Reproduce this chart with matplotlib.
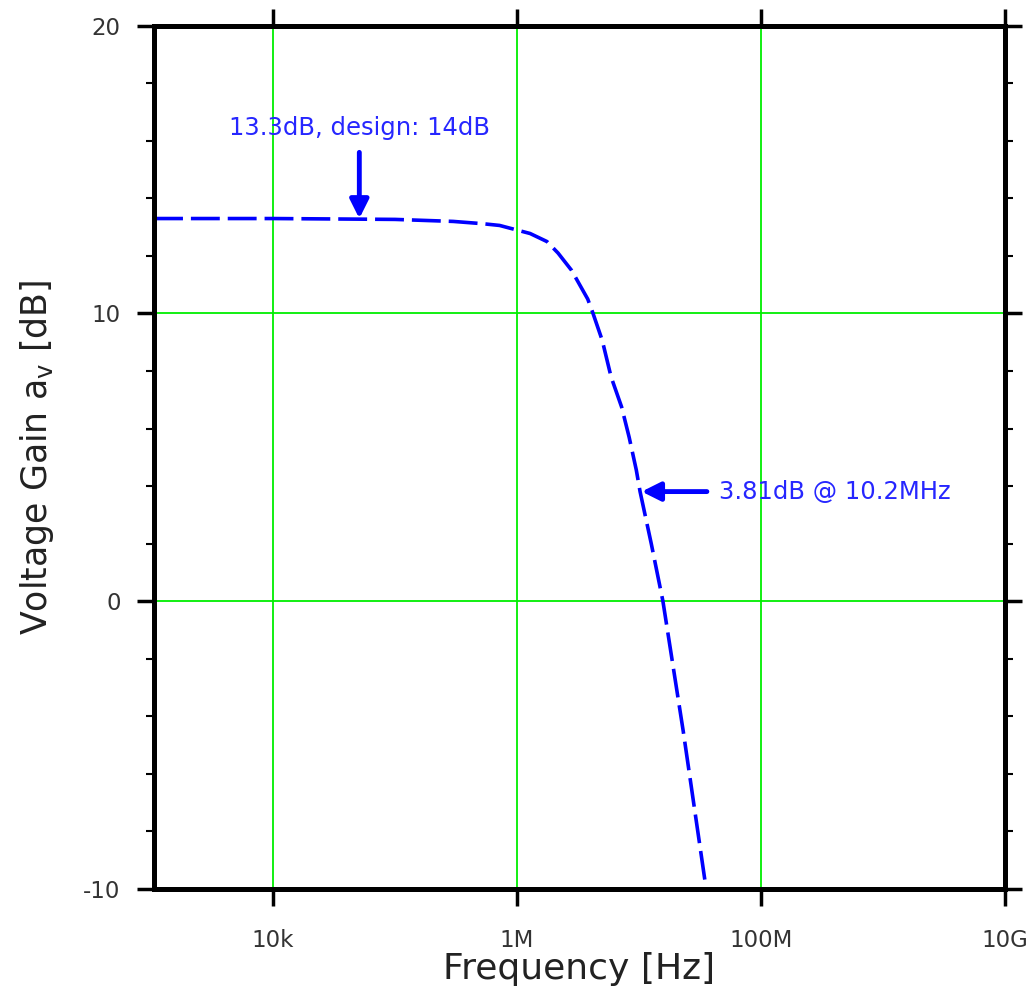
import numpy as np
import matplotlib
matplotlib.use('Agg')
import matplotlib.pyplot as plt
from matplotlib.ticker import FixedLocator, MultipleLocator, NullLocator

plt.rcParams['axes.unicode_minus'] = False

# amplifier frequency response, read off the simulated sweep
freq_hz = [1.06e3, 1e4, 1e5, 3e5, 5.25e5, 7.2e5, 1e6, 1.28e6, 1.76e6, 2.17e6,
           2.8e6, 3.8e6, 4.2e6, 5.0e6, 5.9e6, 7.2e6, 8.3e6, 9.5e6, 10.2e6,
           12.6e6, 15.7e6, 23e6, 35.5e6]
gain_db = [13.30, 13.30, 13.27, 13.20, 13.12, 13.06, 12.90, 12.78, 12.50, 12.10,
           11.50, 10.50, 10.00, 9.06, 7.80, 6.75, 5.70, 4.56, 3.81,
           2.00, 0.00, -4.50, -10.00]

# markers
dc_freq = 5.1e4
dc_gain = 13.3
corner_freq = 10.2e6
corner_gain = 3.81

xtick_vals = [1e4, 1e6, 1e8, 1e10]
xtick_text = ['10k', '1M', '100M', '10G']
ytick_vals = [-10, 0, 10, 20]

blue = '#0000ff'
txt_blue = '#2626ff'

fig = plt.figure(figsize=(10.34, 9.91), dpi=100)
ax = fig.add_axes([0.149, 0.103, 0.823, 0.871])

ax.plot(freq_hz, gain_db, color=blue, lw=2.6, linestyle=(0, (8, 2.2)),
        solid_capstyle='butt', dash_capstyle='butt', zorder=3)

ax.set_xscale('log')
ax.set_xlim(1.06e3, 1e10)
ax.set_ylim(-10, 20)

ax.xaxis.set_major_locator(FixedLocator(xtick_vals))
ax.set_xticklabels(xtick_text)
ax.xaxis.set_minor_locator(NullLocator())
ax.yaxis.set_major_locator(FixedLocator(ytick_vals))
ax.yaxis.set_minor_locator(MultipleLocator(2))

ax.grid(True, which='major', color='#00ee00', lw=1.3, zorder=1)

for s in ax.spines.values():
    s.set_linewidth(3.6)
    s.set_color('black')
    s.set_zorder(4)

ax.tick_params(which='major', direction='out', length=12, width=2.5,
               top=True, right=True, labelsize=16.5, colors='black',
               labelcolor='#333333', pad=12)
ax.tick_params(axis='x', which='major', pad=17)
ax.tick_params(which='minor', direction='out', length=6, width=1.5,
               left=True, right=True)

ax.set_xlabel('Frequency [Hz]', fontsize=26, color='#222222', labelpad=0)
ax.set_ylabel(r'Voltage Gain a$_\mathregular{v}$ [dB]', fontsize=25,
              color='#222222', labelpad=20)

# passband gain note
ax.annotate('', xy=(dc_freq, dc_gain), xytext=(dc_freq, 15.6),
            arrowprops=dict(arrowstyle='-|>', color=blue, lw=3.5,
                            mutation_scale=28, shrinkA=0, shrinkB=0),
            zorder=5)
ax.text(dc_freq, 16.45, '13.3dB, design: 14dB', color=txt_blue, fontsize=17.5,
        ha='center', va='center', zorder=5)

# rolloff point note
ax.annotate('', xy=(corner_freq * 1.03, corner_gain), xytext=(36e6, corner_gain),
            arrowprops=dict(arrowstyle='-|>', color=blue, lw=3.5,
                            mutation_scale=28, shrinkA=0, shrinkB=0),
            zorder=5)
ax.text(45e6, corner_gain, '3.81dB @ 10.2MHz', color=txt_blue, fontsize=17.5,
        ha='left', va='center', zorder=5)

fig.savefig('out.png', dpi=100)
